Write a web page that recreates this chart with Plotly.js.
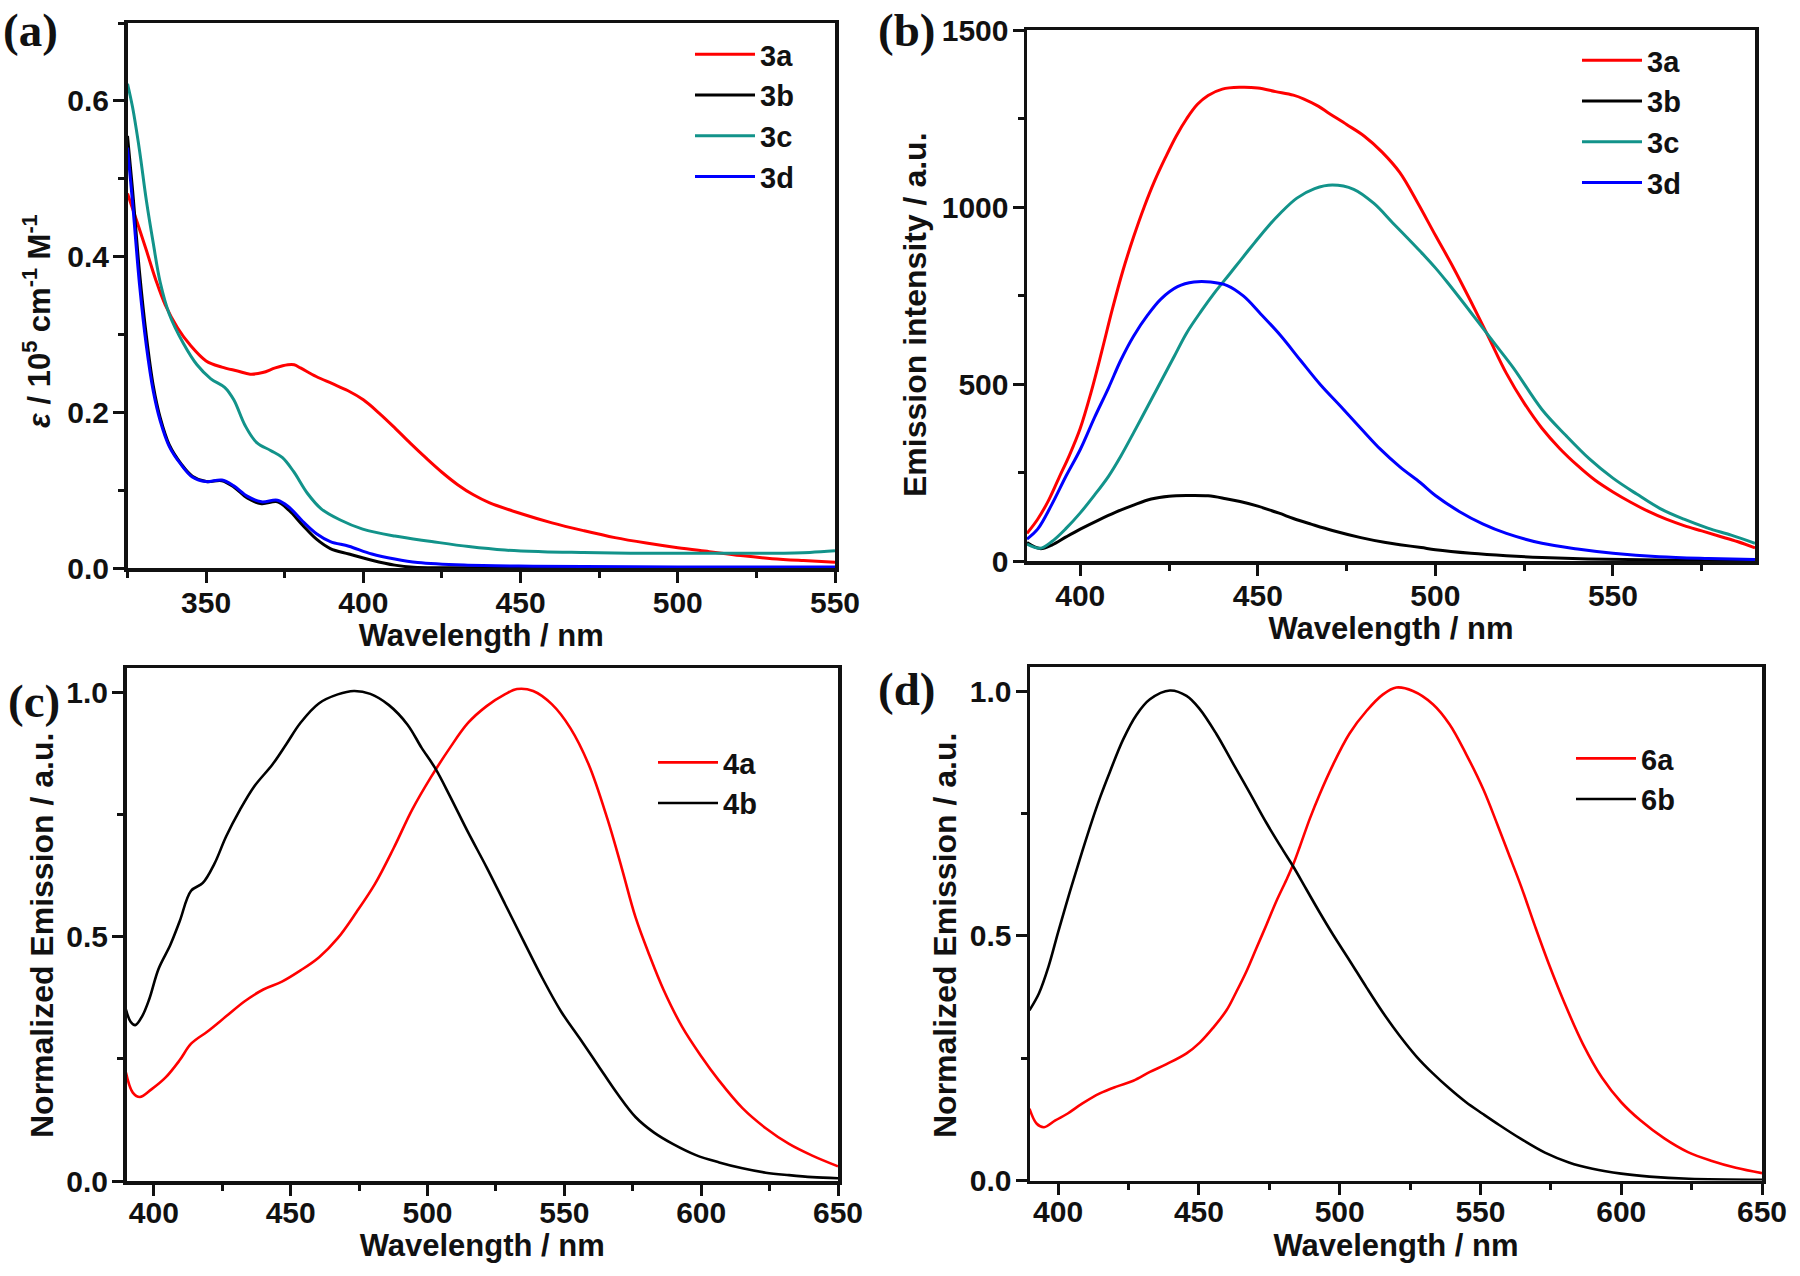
<!DOCTYPE html>
<html>
<head>
<meta charset="utf-8">
<script src="https://cdn.plot.ly/plotly-3.0.1.min.js"></script>
<style>html,body{margin:0;padding:0;background:#fff;}#chart{width:1800px;height:1276px;}</style>
</head>
<body>
<div id="chart"></div>
<script>
// ---------- Panel (a): absorption ----------
const wl_a_3a = [325,328,331,334,337,341,345,350,355,360,364,368,372,376,378,380,385,390,395,400,405,410,415,420,425,430,435,440,450,460,470,480,490,500,510,520,530,540,550];
const eps_3a  = [0.481,0.445,0.408,0.370,0.338,0.308,0.286,0.266,0.258,0.253,0.249,0.251,0.257,0.261,0.261,0.257,0.246,0.237,0.228,0.216,0.199,0.180,0.160,0.141,0.123,0.107,0.094,0.084,0.070,0.058,0.048,0.039,0.032,0.026,0.021,0.016,0.012,0.0095,0.0075];
const wl_a_3b = [325,326.6,328.8,331,333.2,335.4,338.3,342,345.6,350,355,358.8,363.2,367.6,372.7,376.4,380.7,385.1,389.5,395.4,402.7,410,416,425,450,500,550];
const eps_3b  = [0.555,0.486,0.381,0.298,0.234,0.193,0.158,0.134,0.118,0.111,0.112,0.104,0.0895,0.0826,0.085,0.074,0.055,0.037,0.025,0.018,0.010,0.0037,0.001,0.0003,0.0002,0.0002,0.0002];
const wl_a_3c = [325,326.6,328.8,331,333.2,335.4,338.3,342.7,347.1,351.5,355.9,358.8,362.4,366.1,370.5,374.2,377.8,382.2,386.6,392.5,399.8,410,421.7,433.5,445,457,470,485,500,515,530,542,550];
const eps_3c  = [0.622,0.592,0.537,0.472,0.417,0.367,0.326,0.289,0.261,0.243,0.232,0.216,0.183,0.161,0.151,0.142,0.124,0.096,0.076,0.062,0.050,0.041,0.034,0.0275,0.023,0.021,0.020,0.019,0.019,0.019,0.019,0.020,0.022];
const wl_a_3d = [325,326.6,328.8,331,333.2,335.4,338.3,342,345.6,350,355,358.8,363.2,367.6,372.7,376.4,380.7,385.1,389.5,395.4,402.7,410,417.3,432,454,500,550];
const eps_3d  = [0.54,0.47,0.365,0.285,0.227,0.189,0.156,0.133,0.117,0.111,0.113,0.1055,0.092,0.085,0.087,0.078,0.060,0.044,0.034,0.028,0.018,0.0115,0.007,0.0037,0.0023,0.0014,0.0014];

// ---------- Panel (b): emission intensity ----------
const wl_b_3a = [385,388,391,394,397,400,403,406,409,412,415,418,421,424,427,430,433,436,440,445,450,455,460,463,467,470,475,480,485,490,495,500,505,510,515,520,525,530,535,540,545,550,555,560,565,570,575,580,585,590];
const I_3a    = [78,118,170,235,300,375,475,590,710,820,915,1000,1075,1140,1200,1250,1290,1315,1333,1338,1336,1326,1316,1305,1285,1265,1233,1200,1155,1097,1012,920,830,733,632,530,446,375,318,270,228,195,166,140,118,100,85,70,55,37];
const wl_b_3b = [385,388.7,392,396,400,405,410,415,420,425,430,436,441,445,450,456,460,465,471,479,486,490,496,500,510,520,530,543,563,590];
const I_3b    = [52,35,45,68,90,115,138,158,175,183,185,184,176,168,155,135,120,104,86,66,52,46,38,32,22,15,10,6,3,1];
const wl_b_3c = [385,388.7,392,396,400,404,408,411.4,415,419,422.7,426.4,430,434,438,442,445,449,452.7,456.4,461,466,471,477,482.7,488,492,496,500,503.3,510,516.7,522,530,536.7,543.3,550,556.7,563.3,570,576.7,583.3,590];
const I_3c    = [48,36,55,92,136,186,240,296,362,437,507,577,645,705,760,810,848,898,943,983,1025,1052,1062,1050,1010,955,914,872,828,788,702,614,545,428,355,289,234,189,148,118,93,73,50];
const wl_b_3d = [385,388,392,396,400,404,408,411.4,415,419,422.7,427.4,432,436.7,441.4,446,450.8,456.4,462,467.7,473.3,478.9,484.5,490,495.8,500,506.7,513.3,520,530,540,550,563,577,590];
const I_3d    = [62,90,160,240,315,405,490,567,635,695,740,775,788,788,778,748,698,637,567,497,437,376,316,266,221,185,140,105,78,50,34,22,12,7,4];

// ---------- Panel (c): normalized emission 4a/4b ----------
const wl_c_4a = [389.8,392.3,394.9,399.1,404.3,409.4,413.6,419.6,426.4,433.2,440,446.8,453.6,460.4,467.2,474,480.8,487.6,494.4,501.2,508,514.8,521.6,528.4,532.7,538.6,545.4,552.2,559,565.8,570.9,576,581.1,586.2,593,599.8,606.6,615.1,623.6,632.1,640.6,650];
const N_4a    = [0.222,0.181,0.172,0.1875,0.212,0.247,0.281,0.306,0.337,0.368,0.392,0.408,0.431,0.458,0.497,0.550,0.608,0.681,0.760,0.826,0.885,0.9375,0.972,0.9965,1.007,1.003,0.976,0.927,0.851,0.740,0.642,0.540,0.462,0.392,0.316,0.257,0.205,0.149,0.108,0.076,0.052,0.030];
const wl_c_4b = [389.8,391.5,393.2,395.7,398.3,401.7,406,409.4,413.6,417.9,422.1,426.4,431.5,436.6,443.4,448.5,453.6,460.4,467.2,473.1,479.1,485.9,492.7,497.8,502.9,508,514.8,521.6,528.4,535.2,542,548.8,555.6,562.4,569.2,576,582.8,589.6,598.1,606.6,615.1,623.6,632.1,640.6,650];
const N_4b    = [0.351,0.326,0.319,0.337,0.372,0.434,0.483,0.531,0.594,0.610,0.649,0.705,0.760,0.807,0.853,0.895,0.938,0.978,0.996,1.003,0.997,0.974,0.934,0.887,0.844,0.790,0.714,0.642,0.566,0.490,0.415,0.347,0.292,0.236,0.180,0.131,0.099,0.076,0.053,0.038,0.026,0.017,0.012,0.008,0.0056];

// ---------- Panel (d): normalized emission 6a/6b ----------
const wl_d_6a = [389.8,392.4,395,399,403.4,408.5,414.8,420.7,426.7,432.6,438.5,445.6,450.3,455,459.8,463.3,466.9,470.4,474,477.5,481.1,483.4,485.8,489.4,492.9,497.6,503.5,509.5,515.4,520.1,526,533.1,539,544.9,551,556,560,564.4,569.5,574.6,579.7,586.4,593.2,600,606.8,615.3,623.7,632.2,640.7,650];
const N_6a    = [0.147,0.116,0.109,0.123,0.137,0.157,0.178,0.192,0.204,0.222,0.238,0.260,0.282,0.312,0.348,0.386,0.428,0.475,0.523,0.571,0.615,0.645,0.682,0.740,0.790,0.850,0.914,0.960,0.994,1.008,1.001,0.974,0.933,0.872,0.800,0.728,0.668,0.602,0.518,0.438,0.365,0.279,0.210,0.160,0.123,0.086,0.058,0.040,0.026,0.015];
const wl_d_6b = [389.8,393.2,396.6,400,404.2,408.5,412,415,418.4,423.1,427.8,432.6,439.7,445.6,450.3,456.2,462.1,468.1,474,479.9,483.4,488.2,492.9,497.6,503.5,509.5,515.4,521.3,527.2,533.1,539,544.9,550.9,556.8,564.4,572.9,581.4,589.8,600,610,624,650];
const N_6b    = [0.348,0.383,0.438,0.508,0.591,0.672,0.735,0.785,0.836,0.902,0.952,0.984,1.002,0.991,0.964,0.913,0.853,0.792,0.731,0.675,0.643,0.595,0.548,0.503,0.450,0.395,0.343,0.296,0.254,0.219,0.188,0.160,0.136,0.113,0.085,0.057,0.037,0.024,0.014,0.008,0.0035,0.0014];

const RED = '#ff0000', BLACK = '#000000', TEAL = '#12938a', BLUE = '#0000ff';
const FONT = 'Liberation Sans, Arial, sans-serif';
const SERIF = 'Liberation Serif, Times New Roman, serif';

function tr(x, y, name, color, xa, ya, leg, w) {
  return {x: x, y: y, name: name, type: 'scatter', mode: 'lines',
          line: {color: color, width: w, shape: 'spline', smoothing: 1.0},
          xaxis: xa, yaxis: ya, legend: leg, hoverinfo: 'skip'};
}

const data = [
  tr(wl_a_3a, eps_3a, '3a', RED,   'x',  'y',  'legend', 3),
  tr(wl_a_3b, eps_3b, '3b', BLACK, 'x',  'y',  'legend', 3),
  tr(wl_a_3c, eps_3c, '3c', TEAL,  'x',  'y',  'legend', 3),
  tr(wl_a_3d, eps_3d, '3d', BLUE,  'x',  'y',  'legend', 3),
  tr(wl_b_3a, I_3a, '3a', RED,     'x2', 'y2', 'legend2', 3),
  tr(wl_b_3b, I_3b, '3b', BLACK,   'x2', 'y2', 'legend2', 3),
  tr(wl_b_3c, I_3c, '3c', TEAL,    'x2', 'y2', 'legend2', 3),
  tr(wl_b_3d, I_3d, '3d', BLUE,    'x2', 'y2', 'legend2', 3),
  tr(wl_c_4a, N_4a, '4a', RED,     'x3', 'y3', 'legend3', 2.6),
  tr(wl_c_4b, N_4b, '4b', BLACK,   'x3', 'y3', 'legend3', 2.6),
  tr(wl_d_6a, N_6a, '6a', RED,     'x4', 'y4', 'legend4', 2.6),
  tr(wl_d_6b, N_6b, '6b', BLACK,   'x4', 'y4', 'legend4', 2.6)
];

const W = 1800, H = 1276;
function px(v) { return v / W; }
function py(v) { return 1 - v / H; }

function axis(dom, range, dtick, minor, anchor, title, fmt, isX, lblOff, stand) {
  const a = {
    domain: dom, range: range, anchor: anchor, autorange: false,
    showgrid: false, zeroline: false, showline: true, mirror: true,
    linewidth: 3.5, linecolor: '#111',
    ticks: 'outside', ticklen: 11, tickwidth: 3, tickcolor: '#111',
    ticklabelstandoff: lblOff,
    dtick: dtick, tick0: 0, tickformat: fmt || '',
    minor: {ticks: 'outside', ticklen: 6, tickwidth: 3, tickcolor: '#111', dtick: minor, tick0: 0, showgrid: false},
    tickfont: {family: FONT, size: 30, weight: 'bold', color: '#111'},
    fixedrange: true
  };
  if (title) a.title = {text: title, font: {family: FONT, size: 31, weight: 'bold', color: '#111'}, standoff: stand};
  return a;
}

function legend(x, ytop) {
  return {x: px(x), y: py(ytop), xanchor: 'left', yanchor: 'top',
          xref: 'paper', yref: 'paper',
          bgcolor: 'rgba(0,0,0,0)', borderwidth: 0, itemwidth: 60,
          font: {family: FONT, size: 29, weight: 'bold', color: '#111'},
          tracegroupgap: 0};
}

function ytitle(text, x, y, size) {
  return {text: text, x: px(x), y: py(y), xref: 'paper', yref: 'paper', textangle: -90,
          xanchor: 'center', yanchor: 'middle', showarrow: false,
          font: {family: FONT, size: size, weight: 'bold', color: '#111'}};
}
function plabel(text, x, y) {
  return {text: text, x: px(x), y: py(y), xref: 'paper', yref: 'paper', xanchor: 'left', yanchor: 'middle',
          showarrow: false, font: {family: SERIF, size: 47, weight: 'bold', color: '#111'}};
}

const epsTitle = '<i>ε</i> / 10<sup>5</sup> cm<sup>-1</sup> M<sup>-1</sup>';

const layout = {
  width: W, height: H,
  margin: {l: 0, r: 0, t: 0, b: 0},
  paper_bgcolor: '#ffffff', plot_bgcolor: '#ffffff',
  showlegend: true,
  xaxis:  axis([px(127.5), px(835)], [325, 550], 50, 25, 'y',  'Wavelength / nm', '', true, -6, 8),
  yaxis:  axis([py(568), py(23)],   [0, 0.7], 0.2, 0.1, 'x',  null, '.1f', false, -2, 0),
  xaxis2: axis([px(1027), px(1755)], [385, 590], 50, 25, 'y2', 'Wavelength / nm', '', true, -6, 8),
  yaxis2: axis([py(561), py(30)],   [0, 1500], 500, 250, 'x2', null, '', false, -2, 0),
  xaxis3: axis([px(126.5), px(838)], [390, 650], 50, 25, 'y3', 'Wavelength / nm', '', true, -9, 4),
  yaxis3: axis([py(1181), py(668)], [0, 1.05], 0.5, 0.25, 'x3', null, '.1f', false, -2, 0),
  xaxis4: axis([px(1030), px(1762)], [390, 650], 50, 25, 'y4', 'Wavelength / nm', '', true, -9, 4),
  yaxis4: axis([py(1180.5), py(667)], [0, 1.05], 0.5, 0.25, 'x4', null, '.1f', false, -2, 0),
  legend:  legend(690, 29),
  legend2: legend(1577, 35),
  legend3: legend(653, 737),
  legend4: legend(1571, 733),
  annotations: [
    ytitle(epsTitle, 37, 321, 31),
    ytitle('Emission intensity / a.u.', 915, 315, 32),
    ytitle('Normalized Emission / a.u.', 42, 936, 32),
    ytitle('Normalized Emission / a.u.', 945, 936, 32),
    plabel('(a)', 1, 30),
    plabel('(b)', 876, 30),
    plabel('(c)', 6, 701),
    plabel('(d)', 876, 689)
  ]
};

Plotly.newPlot('chart', data, layout, {displayModeBar: false, staticPlot: true});
</script>
</body>
</html>
